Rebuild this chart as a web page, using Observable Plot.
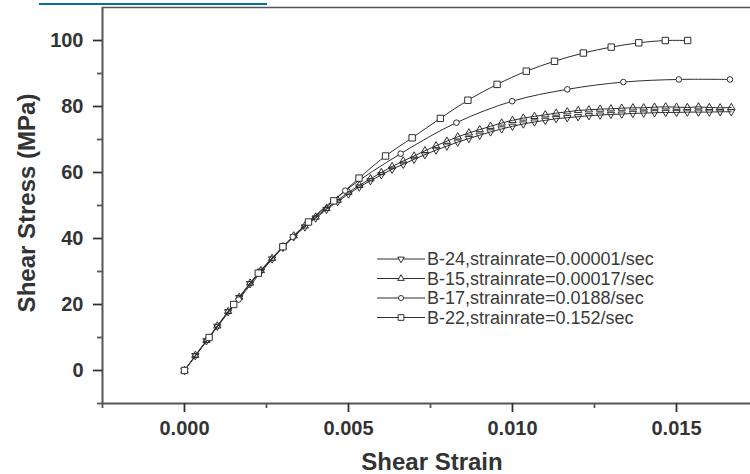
<!DOCTYPE html>
<html>
<head>
<meta charset="utf-8">
<script src="https://cdn.jsdelivr.net/npm/d3@7"></script>
<script src="https://cdn.jsdelivr.net/npm/@observablehq/plot@0.6"></script>
<style>
  html, body { margin: 0; padding: 0; background: #fff; }
  #wrap { position: relative; width: 750px; height: 474px; overflow: hidden; }
  #bar { position: absolute; left: 39px; top: 3px; width: 228px; height: 2px; background: #0b6e99; }
</style>
</head>
<body>
<div id="wrap"><div id="bar"></div></div>
<script>
// ---- data ----
const seriesNames = [
  "B-24,strainrate=0.00001/sec",
  "B-15,strainrate=0.00017/sec",
  "B-17,strainrate=0.0188/sec",
  "B-22,strainrate=0.152/sec"
];
const strainDense = [0, 0.00033, 0.00067, 0.001, 0.00133, 0.00167, 0.002, 0.00233, 0.00267, 0.003,
  0.00333, 0.00367, 0.004, 0.00433, 0.00467, 0.005, 0.00533, 0.00567, 0.006, 0.00633,
  0.00667, 0.007, 0.00733, 0.00767, 0.008, 0.00833, 0.00867, 0.009, 0.00933, 0.00967,
  0.010, 0.01033, 0.01067, 0.011, 0.01133, 0.01167, 0.012, 0.01233, 0.01267, 0.013,
  0.01333, 0.01367, 0.014, 0.01433, 0.01467, 0.015, 0.01533, 0.01567, 0.016, 0.01633, 0.01667];
const stressB24 = [0, 4.5, 9, 13.4, 17.8, 22.1, 26.3, 30.1, 33.8, 37.3,
  40.5, 43.5, 46.2, 48.8, 51.2, 53.5, 55.6, 57.5, 59.3, 61,
  62.5, 64, 65.4, 66.8, 68, 69.2, 70.3, 71.3, 72.3, 73.2,
  74, 74.7, 75.3, 75.8, 76.3, 76.6, 76.9, 77.2, 77.4, 77.6,
  77.7, 77.9, 78, 78.1, 78.2, 78.2, 78.3, 78.3, 78.3, 78.4, 78.4];
const stressB15 = [0, 4.6, 9.1, 13.5, 17.9, 22.2, 26.5, 30.3, 34, 37.5,
  40.8, 43.8, 46.5, 49.1, 51.6, 54, 56.1, 58.1, 60, 61.8,
  63.5, 65, 66.6, 68.1, 69.5, 70.8, 72, 73, 74, 75,
  75.8, 76.5, 77, 77.5, 78, 78.4, 78.8, 79, 79.2, 79.3,
  79.5, 79.6, 79.6, 79.8, 79.9, 79.8, 79.7, 79.9, 79.7, 79.6, 79.7];
const strainB17 = [0, 0.00165, 0.0033, 0.0049, 0.00659, 0.00829, 0.00999, 0.01167, 0.01338, 0.01507, 0.01663];
const stressB17 = [0, 21.5, 40.5, 54.5, 65.7, 75.1, 81.6, 85.2, 87.4, 88.2, 88.2];
const strainB22 = [0, 0.00075, 0.0015, 0.00225, 0.003, 0.00378, 0.00455, 0.00532, 0.00613, 0.00694,
  0.0078, 0.00864, 0.00953, 0.01042, 0.01128, 0.01216, 0.01301, 0.01385, 0.01466, 0.01534];
const stressB22 = [0, 10, 20, 29.5, 37.5, 45, 51.4, 58.3, 65.0, 70.5,
  76.4, 81.9, 86.7, 90.7, 93.7, 96.2, 98.0, 99.3, 100, 100];
const xTicks = [0, 0.005, 0.010, 0.015];
const xMinor = [-0.0025, 0.0025, 0.0075, 0.0125];
const yTicks = [0, 20, 40, 60, 80, 100];
const yMinor = [-10, 10, 30, 50, 70, 90];

// ---- build ----
const downTriangle = {
  draw(context, size) {
    const y = Math.sqrt(size / (Math.sqrt(3) * 3));
    context.moveTo(0, 2 * y);
    context.lineTo(-Math.sqrt(3) * y, -y);
    context.lineTo(Math.sqrt(3) * y, -y);
    context.closePath();
  }
};
const toRows = (xs, ys) => xs.map((x, i) => ({x, y: ys[i]}));
const series = [
  {name: seriesNames[0], rows: toRows(strainDense, stressB24), symbol: downTriangle, r: 2.7, fill: "none", curve: "linear"},
  {name: seriesNames[1], rows: toRows(strainDense, stressB15), symbol: "triangle", r: 2.7, fill: "none", curve: "linear"},
  {name: seriesNames[2], rows: toRows(strainB17, stressB17), symbol: "circle", r: 2.8, fill: "white", curve: "catmull-rom"},
  {name: seriesNames[3], rows: toRows(strainB22, stressB22), symbol: "square", r: 3.6, fill: "white", curve: "catmull-rom"}
];
const INK = "#2e2e2e";
const FONT = "'Liberation Sans', Arial, Helvetica, sans-serif";

const marks = [];
for (const s of series) {
  marks.push(Plot.line(s.rows, {x: "x", y: "y", stroke: INK, strokeWidth: 1, curve: s.curve}));
}
for (const s of series) {
  marks.push(Plot.dot(s.rows, {x: "x", y: "y", symbol: s.symbol, r: s.r, fill: s.fill, stroke: INK, strokeWidth: 1}));
}
marks.push(
  Plot.ruleX([-0.0025], {stroke: "#555", strokeWidth: 2}),
  Plot.ruleY([-10], {stroke: "#555", strokeWidth: 2}),
  Plot.ruleY([110], {stroke: "#555", strokeWidth: 1.5}),
  Plot.axisX(xTicks, {tickSize: 9, tickPadding: 8, tickFormat: d3.format(".3f"), fontSize: 20, fontWeight: "bold", color: "#333", strokeWidth: 1.8, label: null}),
  Plot.axisX(xMinor, {tickSize: 5, tickFormat: () => "", color: "#555", strokeWidth: 1.8, label: null}),
  Plot.axisY(yTicks, {tickSize: 9, tickPadding: 10, fontSize: 20, fontWeight: "bold", color: "#333", strokeWidth: 1.8, label: null}),
  Plot.axisY(yMinor, {tickSize: 5, tickFormat: () => "", color: "#555", strokeWidth: 1.8, label: null})
);

const chart = Plot.plot({
  width: 750,
  height: 474,
  marginLeft: 102,
  marginRight: 0,
  marginTop: 7,
  marginBottom: 71,
  x: {domain: [-0.0025, 0.017256]},
  y: {domain: [-10, 110]},
  style: {fontFamily: FONT, background: "white", overflow: "visible"},
  marks
});
document.getElementById("wrap").prepend(chart);

// titles and legend
const svg = d3.select(chart);
svg.append("text")
  .attr("transform", "translate(26,203) rotate(-90)")
  .attr("text-anchor", "middle").attr("dominant-baseline", "central")
  .attr("font-family", FONT).attr("font-size", 24).attr("font-weight", "bold").attr("fill", "#333")
  .text("Shear Stress (MPa)");
svg.append("text")
  .attr("x", 432).attr("y", 470)
  .attr("text-anchor", "middle")
  .attr("font-family", FONT).attr("font-size", 24).attr("font-weight", "bold").attr("fill", "#333")
  .text("Shear Strain");

const legendRowsY = [259, 278.5, 298, 317.5];
const lg = svg.append("g").attr("text-anchor", "start");
series.forEach((s, i) => {
  const y = legendRowsY[i];
  lg.append("line").attr("x1", 377).attr("x2", 425).attr("y1", y).attr("y2", y)
    .attr("stroke", INK).attr("stroke-width", 1);
  const sym = typeof s.symbol === "string"
    ? {circle: d3.symbolCircle, triangle: d3.symbolTriangle, square: d3.symbolSquare}[s.symbol]
    : s.symbol;
  lg.append("path").attr("transform", `translate(401,${y})`)
    .attr("d", d3.symbol(sym, Math.PI * s.r * s.r * 0.8)())
    .attr("fill", "white").attr("stroke", INK).attr("stroke-width", 1);
  lg.append("text").attr("x", 427).attr("y", y)
    .attr("text-anchor", "start")
    .attr("dominant-baseline", "central")
    .attr("font-family", FONT).attr("font-size", 18).attr("fill", "#3a3a3a")
    .text(s.name);
});
</script>
</body>
</html>
